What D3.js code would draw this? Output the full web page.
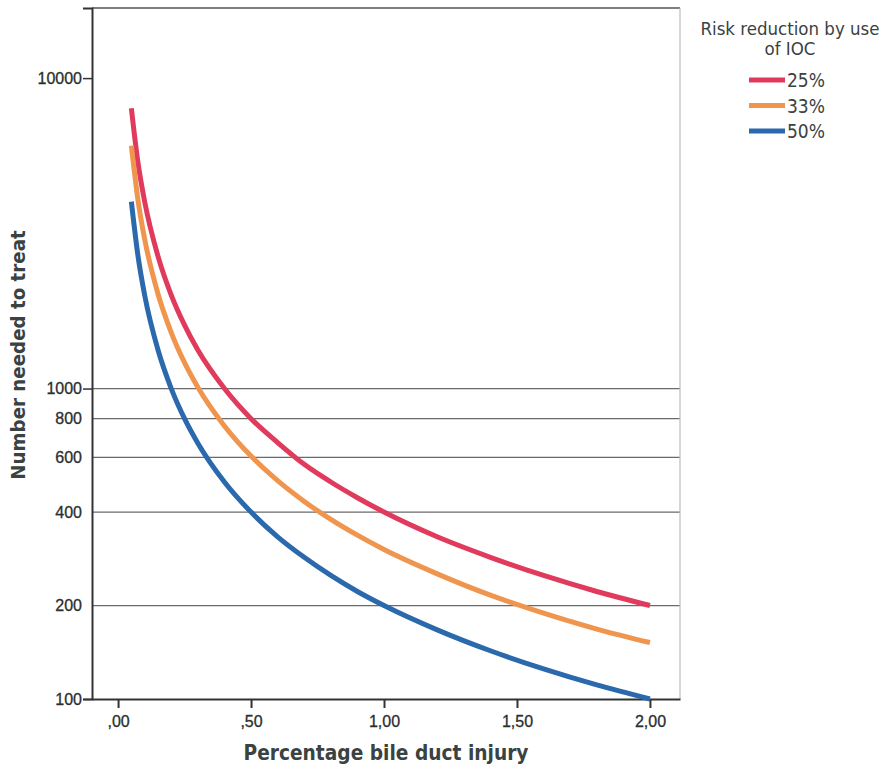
<!DOCTYPE html>
<html>
<head>
<meta charset="utf-8">
<script src="https://cdn.jsdelivr.net/npm/d3@7"></script>
<style>
  body { margin: 0; background: #fff; }
  text { font-family: "DejaVu Sans Condensed", "DejaVu Sans", sans-serif; fill: #3a4242; }
</style>
</head>
<body>
<div id="chart"></div>
<script>
// 데이터
const injuryPct = [0.05, 0.075, 0.1, 0.15, 0.2, 0.25, 0.3, 0.4, 0.5, 0.6, 0.7, 0.8, 0.9, 1.0, 1.2, 1.4, 1.6, 1.8, 2.0];
const nnt25 = [8000, 5330, 4000, 2670, 2000, 1600, 1330, 1000, 800, 670, 570, 500, 445, 400, 333, 286, 250, 222, 200];
const nnt33 = [6060, 4040, 3030, 2020, 1515, 1212, 1010, 758, 606, 505, 433, 379, 337, 303, 253, 216, 189, 168, 152];
const nnt50 = [4000, 2670, 2000, 1333, 1000, 800, 667, 500, 400, 333, 286, 250, 222, 200, 167, 143, 125, 111, 100];
const seriesNames = ["25%", "33%", "50%"];
const seriesColors = ["#e03a5c", "#f0954e", "#2b69ad"];
const yTicks = [100, 200, 400, 600, 800, 1000, 10000];
const gridTicks = [200, 400, 600, 800, 1000];
const xTicks = [0, 0.5, 1, 1.5, 2];

const width = 889, height = 768;
const plotLeft = 92, plotRight = 680, plotTop = 8, plotBottom = 699;

const svg = d3.select("#chart").append("svg")
    .attr("width", width)
    .attr("height", height);

// 스케일
const x = d3.scaleLinear().domain([-0.098, 2.113]).range([plotLeft, plotRight]);
const y = d3.scaleLog().domain([100, Math.pow(10, 4 + 70 / 310)]).range([plotBottom, plotTop]);

// 그리드
svg.selectAll(".grid")
    .data(gridTicks)
    .enter()
    .append("line")
    .attr("x1", plotLeft)
    .attr("x2", plotRight)
    .attr("y1", d => y(d))
    .attr("y2", d => y(d))
    .attr("stroke", "#6a6a6a")
    .attr("stroke-width", 1.2);

// 프레임
svg.append("line").attr("x1", plotLeft).attr("x2", plotRight).attr("y1", plotTop).attr("y2", plotTop)
    .attr("stroke", "#555").attr("stroke-width", 1.5);
svg.append("line").attr("x1", plotRight).attr("x2", plotRight).attr("y1", plotTop).attr("y2", plotBottom)
    .attr("stroke", "#bbb").attr("stroke-width", 1.2);

// 축
const yAxis = svg.append("g")
    .attr("transform", `translate(${plotLeft},0)`)
    .call(d3.axisLeft(y).tickValues(yTicks).tickFormat(d3.format("d")).tickSize(9).tickPadding(1));
yAxis.select(".domain").attr("stroke", "#333").attr("stroke-width", 2);
yAxis.selectAll(".tick line").attr("stroke", "#333").attr("stroke-width", 1.5)
    .attr("opacity", d => (d === 100 || d === 1000 || d === 10000) ? 1 : 0);
yAxis.selectAll(".tick text")
    .style("font-family", "'Liberation Sans', Arial, sans-serif")
    .style("font-size", "16px")
    .style("fill", "#2a2f2f")
    .style("stroke", "#2a2f2f")
    .style("stroke-width", "0.3px");

const xAxis = svg.append("g")
    .attr("transform", `translate(0,${plotBottom})`)
    .call(d3.axisBottom(x).tickValues(xTicks)
        .tickFormat(d => d3.format(".2f")(d).replace(".", ",").replace(/^0/, ""))
        .tickSize(9).tickPadding(8).tickSizeOuter(0));
xAxis.select(".domain").attr("stroke", "#333").attr("stroke-width", 2);
xAxis.selectAll(".tick line").attr("stroke", "#333").attr("stroke-width", 2);
xAxis.selectAll(".tick text")
    .style("font-family", "'Liberation Sans', Arial, sans-serif")
    .style("font-size", "16px")
    .style("fill", "#2a2f2f")
    .style("stroke", "#2a2f2f")
    .style("stroke-width", "0.3px");

// 선
const series = [nnt25, nnt33, nnt50];
const line = d3.line()
    .x((d, i) => x(injuryPct[i]))
    .y(d => y(d))
    .curve(d3.curveMonotoneX);

svg.selectAll(".series")
    .data(series)
    .enter()
    .append("path")
    .attr("d", d => line(d))
    .attr("fill", "none")
    .attr("stroke", (d, i) => seriesColors[i])
    .attr("stroke-width", 5);

// 축 제목
svg.append("text")
    .attr("transform", "translate(25,355) rotate(-90)")
    .attr("text-anchor", "middle")
    .attr("font-size", 20.3)
    .attr("font-weight", "bold")
    .text("Number needed to treat");

svg.append("text")
    .attr("x", 386)
    .attr("y", 760)
    .attr("text-anchor", "middle")
    .attr("font-size", 20.7)
    .attr("font-weight", "bold")
    .text("Percentage bile duct injury");

// 범례
const legend = svg.append("g");
legend.append("text").attr("x", 790).attr("y", 35).attr("text-anchor", "middle")
    .attr("font-size", 18.5).text("Risk reduction by use");
legend.append("text").attr("x", 790).attr("y", 55).attr("text-anchor", "middle")
    .attr("font-size", 18.5).text("of IOC");

const items = legend.selectAll(".item")
    .data(seriesNames)
    .enter()
    .append("g")
    .attr("transform", (d, i) => `translate(749,${80 + i * 25.5})`);
items.append("line")
    .attr("x1", 0).attr("x2", 36)
    .attr("stroke", (d, i) => seriesColors[i])
    .attr("stroke-width", 5);
items.append("text")
    .attr("x", 38).attr("y", 7)
    .attr("font-size", 19)
    .text(d => d);
</script>
</body>
</html>
